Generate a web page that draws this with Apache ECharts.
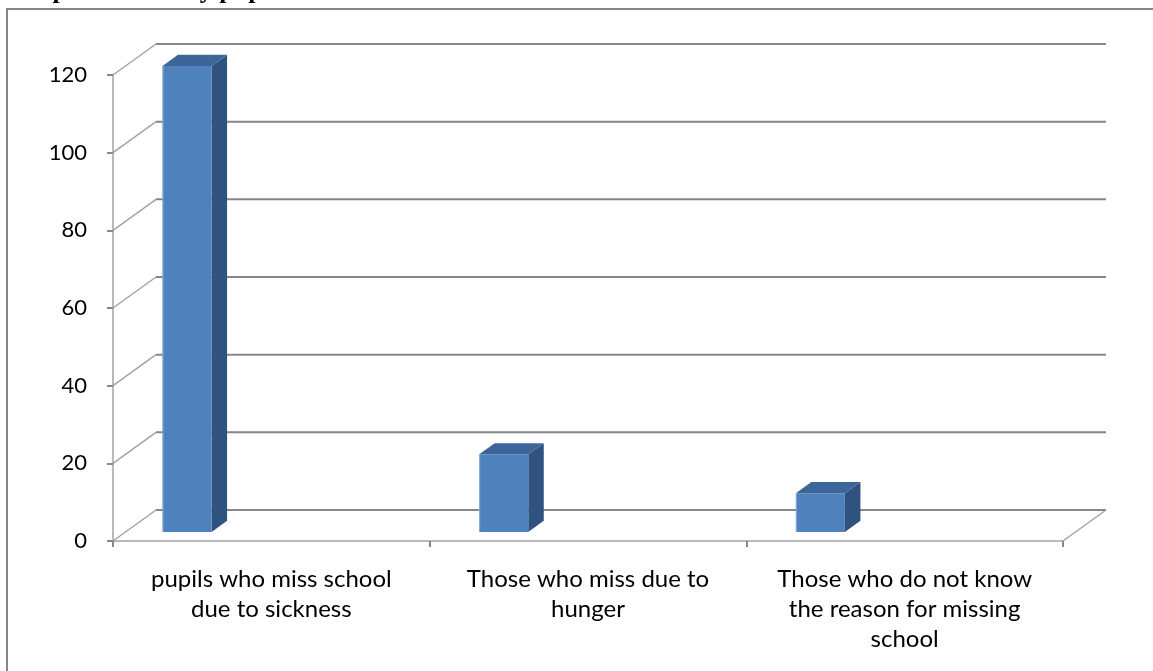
<!DOCTYPE html>
<html>
<head>
<meta charset="utf-8">
<script src="https://cdn.jsdelivr.net/npm/echarts@6/dist/echarts.min.js"></script>
<style>
  html, body { margin: 0; padding: 0; background: #ffffff; }
  #chart { width: 1153px; height: 671px; }
</style>
</head>
<body>
<div id="chart"></div>
<script>
// ---- data ----
const titleText = 'Responses on why pupils miss school';
const categories = [
  'pupils who miss school\ndue to sickness',
  'Those who miss due to\nhunger',
  'Those who do not know\nthe reason for missing\nschool'
];
const responses = [120, 20, 10];
const yTicks = [0, 20, 40, 60, 80, 100, 120];

// ---- 3D box geometry (oblique projection) ----
const DEPTH = [43, -31];                 // offset from front plane to back wall, px
const BAR_DEPTH_FRONT = 0.29;            // bar slab front, fraction of depth
const BAR_DEPTH_BACK = 0.65;             // bar slab back, fraction of depth
const BAR_LEFT = 0.117;                  // bar left edge inside category band
const BAR_WIDTH = 0.155;                 // bar width as fraction of band

const GRID_COLOR = '#868686';
const SIDE_COLOR = '#a3a3a3';

const chart = echarts.init(document.getElementById('chart'), null, { renderer: 'canvas' });

// Back wall gridline plus the diagonal on the left side wall for one tick value
function wallItem(params, api) {
  const v = api.value(1);
  const cs = params.coordSys;
  const y = api.coord([0, v])[1];
  const x0 = cs.x, x1 = cs.x + cs.width;
  const bx0 = x0 + DEPTH[0], bx1 = x1 + DEPTH[0], by = y + DEPTH[1];
  const children = [
    { type: 'line', shape: { x1: x0, y1: y, x2: bx0, y2: by },
      style: { stroke: SIDE_COLOR, lineWidth: 1.5 } },
    { type: 'line', shape: { x1: bx0, y1: by, x2: bx1, y2: by },
      style: { stroke: GRID_COLOR, lineWidth: 2 } }
  ];
  if (v === 0) {
    // right edge of the floor
    children.push({ type: 'line', shape: { x1: x1, y1: y, x2: bx1, y2: by },
      style: { stroke: SIDE_COLOR, lineWidth: 1.5 } });
  }
  return { type: 'group', children };
}

// Column drawn as a shaded box: front face, top face and right side
function barItem(params, api) {
  const i = api.value(0), v = api.value(1);
  const band = api.size([1, 0])[0];
  const base = api.coord([i, 0]);
  const top = api.coord([i, v]);
  const left = base[0] - band / 2 + band * BAR_LEFT;
  const right = left + band * BAR_WIDTH;
  const fx = DEPTH[0] * BAR_DEPTH_FRONT, fy = DEPTH[1] * BAR_DEPTH_FRONT;
  const kx = DEPTH[0] * (BAR_DEPTH_BACK - BAR_DEPTH_FRONT);
  const ky = DEPTH[1] * (BAR_DEPTH_BACK - BAR_DEPTH_FRONT);
  const L = left + fx, R = right + fx, B = base[1] + fy, T = top[1] + fy;
  return {
    type: 'group',
    children: [
      { type: 'polygon', shape: { points: [[R, T], [R + kx, T + ky], [R + kx, B + ky], [R, B]] },
        style: { fill: '#30527e' } },
      { type: 'polygon', shape: { points: [[L, T], [R, T], [R + kx, T + ky], [L + kx, T + ky]] },
        style: { fill: '#3d659a' } },
      { type: 'rect', shape: { x: L, y: T, width: R - L, height: B - T },
        style: { fill: '#4f81bd' } },
      { type: 'line', shape: { x1: L + 0.5, y1: T, x2: L + 0.5, y2: B },
        style: { stroke: '#8fb0d8', lineWidth: 1 } }
    ]
  };
}

const option = {
  backgroundColor: '#ffffff',
  animation: false,
  graphic: [
    { type: 'rect', shape: { x: 7, y: 9, width: 1200, height: 700 },
      style: { fill: 'none', stroke: GRID_COLOR, lineWidth: 2 }, z: 0 },
    { type: 'text', x: 12, y: -9,
      style: { text: titleText, font: 'bold 26px "Liberation Serif"', fill: '#000000',
               verticalAlign: 'middle', align: 'left' }, z: 10 }
  ],
  grid: { left: 113, right: 90, top: 75, bottom: 130, containLabel: false },
  xAxis: {
    type: 'category',
    data: categories,
    boundaryGap: true,
    axisLine: { show: true, lineStyle: { color: SIDE_COLOR, width: 1.5 } },
    axisTick: { show: true, length: 6, alignWithLabel: false, lineStyle: { color: GRID_COLOR, width: 2 } },
    axisLabel: { interval: 0, color: '#000000', fontFamily: 'Lato', fontSize: 24,
                 lineHeight: 30, margin: 23, align: 'center' },
    splitLine: { show: false }
  },
  yAxis: {
    type: 'value',
    min: 0, max: 120, interval: 20,
    axisLine: { show: true, lineStyle: { color: SIDE_COLOR, width: 1.5 } },
    axisTick: { show: true, length: 6, lineStyle: { color: GRID_COLOR, width: 2 } },
    axisLabel: { color: '#000000', fontFamily: 'Lato', fontSize: 22, margin: 26 },
    splitLine: { show: false }
  },
  series: [
    { type: 'custom', name: 'walls', renderItem: wallItem, z: 1,
      data: yTicks.map(v => [0, v]), silent: true },
    { type: 'custom', name: 'Responses', renderItem: barItem, z: 3,
      data: responses.map((v, i) => [i, v]) }
  ]
};

chart.setOption(option);
</script>
</body>
</html>
